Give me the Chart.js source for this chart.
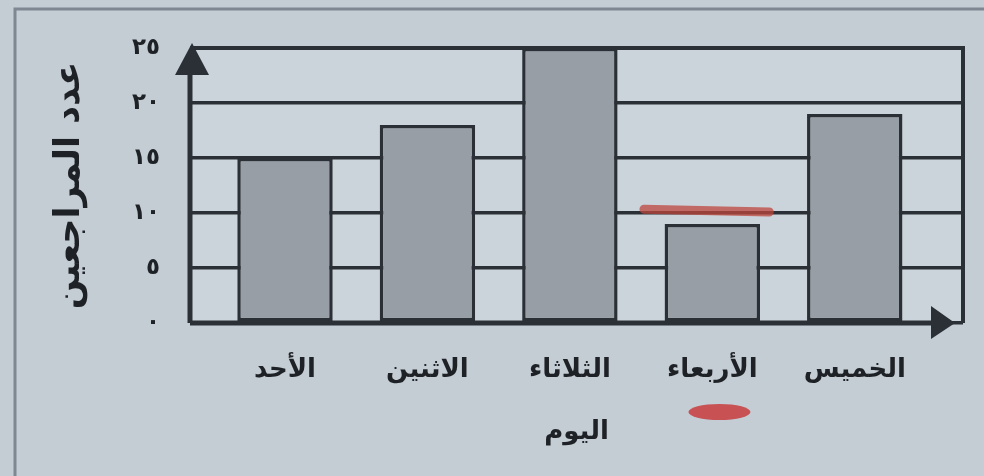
<!DOCTYPE html>
<html>
<head>
    <meta charset="utf-8">
    <title>عدد المراجعين</title>
    <script src="https://cdn.jsdelivr.net/npm/chart.js"></script>
    <style>
        body {
            margin: 0;
            background: #c6ced6;
        }
        #wrap {
            width: 984px;
            height: 476px;
        }
    </style>
</head>
<body>
    <div id="wrap">
        <canvas id="myChart" width="984" height="476"></canvas>
    </div>
    <script>
        // data
        const days = ['الأحد', 'الاثنين', 'الثلاثاء', 'الأربعاء', 'الخميس'];
        const visitors = [15, 18, 25, 9, 19];
        const yTicks = [0, 5, 10, 15, 20, 25];

        const arabicDigits = n => String(n).replace(/[0-9]/g, d => '٠١٢٣٤٥٦٧٨٩'[d]);

        const ink = '#2b3036';
        const font = 'DejaVu Sans';

        // page background, plot area, outer frame of the photographed page
        const backdrop = {
            id: 'backdrop',
            beforeDraw(chart) {
                const {ctx, chartArea: a} = chart;
                ctx.save();
                ctx.fillStyle = '#c4ccd4';
                ctx.fillRect(0, 0, chart.width, chart.height);
                ctx.fillStyle = '#ccd4db';
                ctx.fillRect(a.left, a.top, a.right - a.left, a.bottom - a.top);
                ctx.strokeStyle = '#7e8792';
                ctx.lineWidth = 3;
                ctx.beginPath();
                ctx.moveTo(15, chart.height);
                ctx.lineTo(15, 9);
                ctx.lineTo(chart.width, 9);
                ctx.stroke();
                ctx.restore();
            }
        };

        // frame, axes with arrow heads, and the red pen marks
        const axesArrows = {
            id: 'axesArrows',
            afterDatasetsDraw(chart) {
                const {ctx, chartArea: a, scales: {x, y}} = chart;
                ctx.save();
                ctx.strokeStyle = ink;
                ctx.fillStyle = ink;
                ctx.lineWidth = 4;
                ctx.beginPath();
                ctx.moveTo(a.left, a.top);
                ctx.lineTo(a.right, a.top);
                ctx.lineTo(a.right, a.bottom);
                ctx.stroke();
                ctx.lineWidth = 5;
                ctx.beginPath();
                ctx.moveTo(a.left, a.bottom);
                ctx.lineTo(a.left, a.top + 20);
                ctx.moveTo(a.left, a.bottom);
                ctx.lineTo(a.right - 20, a.bottom);
                ctx.stroke();
                // up arrow
                ctx.beginPath();
                ctx.moveTo(a.left + 2, a.top - 5);
                ctx.lineTo(a.left + 19, a.top + 27);
                ctx.lineTo(a.left - 15, a.top + 27);
                ctx.closePath();
                ctx.fill();
                // right arrow
                ctx.beginPath();
                ctx.moveTo(a.right - 8, a.bottom);
                ctx.lineTo(a.right - 32, a.bottom - 17);
                ctx.lineTo(a.right - 32, a.bottom + 16);
                ctx.closePath();
                ctx.fill();

                // red pen marks
                ctx.strokeStyle = 'rgba(190, 70, 60, 0.75)';
                ctx.lineCap = 'round';
                ctx.lineWidth = 9;
                ctx.beginPath();
                ctx.moveTo(x.getPixelForValue(2.52), y.getPixelForValue(10.35));
                ctx.lineTo(x.getPixelForValue(3.4), y.getPixelForValue(10.1));
                ctx.stroke();
                ctx.fillStyle = 'rgba(200, 50, 50, 0.8)';
                ctx.beginPath();
                ctx.ellipse(x.getPixelForValue(3.05), a.bottom + 89, 31, 8, 0, 0, Math.PI * 2);
                ctx.fill();
                ctx.restore();
            }
        };

        const ctx = document.getElementById('myChart').getContext('2d');
        new Chart(ctx, {
            type: 'bar',
            data: {
                datasets: [{
                    label: 'عدد المراجعين',
                    data: visitors.map((v, i) => ({x: i, y: v})),
                    backgroundColor: '#979ea5',
                    borderColor: ink,
                    borderWidth: 3.5,
                    borderSkipped: false,
                    barPercentage: 0.67,
                    categoryPercentage: 1
                }]
            },
            options: {
                responsive: false,
                devicePixelRatio: 1,
                animation: false,
                layout: {
                    padding: {top: 48, right: 21, left: 0, bottom: 0}
                },
                plugins: {
                    legend: {display: false},
                    tooltip: {enabled: false}
                },
                scales: {
                    x: {
                        type: 'linear',
                        offset: false,
                        min: -0.667,
                        max: 4.76,
                        afterBuildTicks: s => { s.ticks = days.map((d, i) => ({value: i})); },
                        afterFit: s => { s.height = 153; },
                        grid: {display: false, drawTicks: false},
                        border: {display: false},
                        ticks: {
                            padding: 32,
                            color: '#1e2226',
                            font: {family: font, size: 26, weight: 'bold'},
                            callback: v => days[v]
                        },
                        title: {
                            display: true,
                            text: 'اليوم',
                            color: '#1e2226',
                            font: {family: font, size: 26, weight: 'bold'},
                            padding: {top: 0, bottom: 28}
                        }
                    },
                    y: {
                        min: 0,
                        max: 25,
                        afterBuildTicks: s => { s.ticks = yTicks.map(v => ({value: v})); },
                        afterFit: s => { s.width = 190; },
                        grid: {color: ink, lineWidth: 3.5, drawTicks: false},
                        border: {display: false},
                        ticks: {
                            padding: 30,
                            color: '#1e2226',
                            font: {family: font, size: 23, weight: 'bold'},
                            callback: v => arabicDigits(v)
                        },
                        title: {
                            display: true,
                            text: 'عدد المراجعين',
                            color: '#1e2226',
                            font: {family: font, size: 35, weight: 'bold'},
                            padding: {top: 49, bottom: 0}
                        }
                    }
                }
            },
            plugins: [backdrop, axesArrows]
        });
    </script>
</body>
</html>
